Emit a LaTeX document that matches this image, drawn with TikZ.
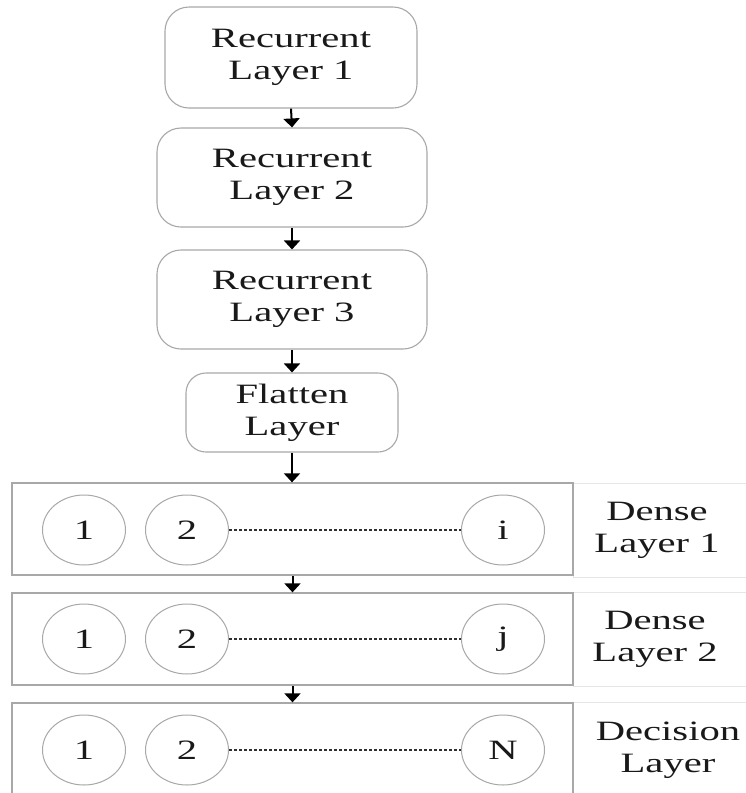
\documentclass[tikz,border=0pt]{standalone}
\usepackage{fontspec}
\setmainfont[FakeStretch=1.45]{Liberation Serif}
\usetikzlibrary{shapes.geometric,arrows.meta}

\definecolor{boxgray}{HTML}{A8A8A8}
\definecolor{cellgray}{HTML}{E6E6E6}
\definecolor{dashgray}{HTML}{303030}

\tikzset{
  txt/.style={font=\fontsize{28}{32}\selectfont, align=center, text=black!90},
  rbox/.style={draw=boxgray, line width=1.1pt, rounded corners=24pt, inner sep=0pt},
  layerbox/.style={draw=boxgray, line width=1.3pt, inner sep=0pt,
    minimum width=561pt, minimum height=92pt},
  labelcell/.style={draw=cellgray, line width=1pt, inner sep=0pt,
    minimum width=174pt, minimum height=94pt},
  neuron/.style={ellipse, draw=boxgray, line width=1pt, inner sep=0pt,
    minimum width=83pt, minimum height=70pt, txt},
  flow/.style={-{Triangle[width=16pt,length=9pt]}, line width=2pt, black},
  dots/.style={dash pattern=on 3pt off 2pt, line width=1.1pt, dashgray}
}

\begin{document}
\begin{tikzpicture}[x=1pt, y=-1pt]
  \useasboundingbox (0,0) rectangle (746,793);
  \fill[white] (0,0) rectangle (746,793);

  % recurrent stack and flatten layer
  \node[rbox, txt, minimum width=252pt, minimum height=101pt] (r1) at (291,57.5) {Recurrent\\Layer 1};
  \node[rbox, txt, minimum width=270pt, minimum height=99pt] (r2) at (292,177.5) {Recurrent\\Layer 2};
  \node[rbox, txt, minimum width=270pt, minimum height=99pt] (r3) at (292,299.5) {Recurrent\\Layer 3};
  \node[rbox, txt, rounded corners=20pt, minimum width=212pt, minimum height=79pt] (fl) at (292,412.5) {Flatten\\Layer};

  % label cells on the right
  \node[labelcell] (c1) at (660,530) {};
  \node[labelcell] (c2) at (660,639) {};
  \node[labelcell] (c3) at (660,749) {};

  % dense layers
  \node[layerbox] (d1) at (292.5,529) {};
  \node[layerbox] (d2) at (292.5,639) {};
  \node[layerbox] (d3) at (292.5,749) {};

  \node[txt] (l1) at (657,530) {Dense\\Layer 1};
  \node[txt] (l2) at (655,639) {Dense\\Layer 2};
  \node[txt] (l3) at (668,750) {Decision\\Layer};

  % neurons
  \node[neuron] (a1) at (84,530) {1};
  \node[neuron] (a2) at (187,530) {2};
  \node[neuron] (an) at (503,530) {i};
  \node[neuron] (b1) at (84,639) {1};
  \node[neuron] (b2) at (187,639) {2};
  \node[neuron] (bn) at (503,639) {j};
  \node[neuron] (e1) at (84,750) {1};
  \node[neuron] (e2) at (187,750) {2};
  \node[neuron] (en) at (503,750) {N};

  \draw[dots] (a2.east) -- (an.west);
  \draw[dots] (b2.east) -- (bn.west);
  \draw[dots] (e2.east) -- (en.west);

  % data flow
  \draw[flow] (r1.south) -- (r2.north);
  \draw[flow] (r2.south) -- (r3.north);
  \draw[flow] (r3.south) -- (fl.north);
  \draw[flow] (fl.south) -- (d1.north -| fl.south);
  \draw[flow] (d1.south) -- (d2.north);
  \draw[flow] (d2.south) -- (d3.north);
\end{tikzpicture}
\end{document}
